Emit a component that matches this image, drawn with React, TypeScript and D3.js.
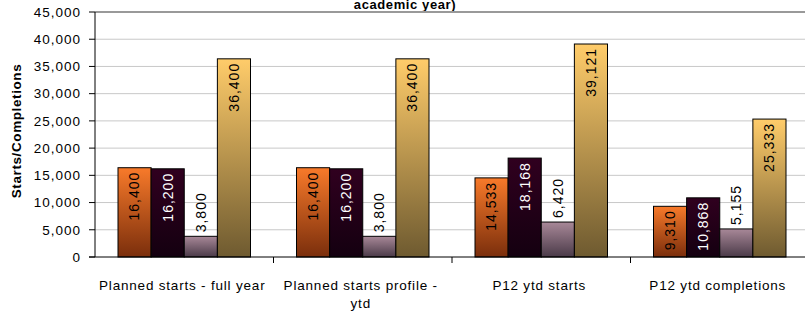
import { useMemo } from 'react'
import * as d3 from 'd3'

const W = 805
const H = 316
const M = { top: 12, right: -4, bottom: 59, left: 95 }

const categories = [
  'Planned starts - full year',
  'Planned starts profile - ytd',
  'P12 ytd starts',
  'P12 ytd completions',
]
const categoryLines = [
  ['Planned starts - full year'],
  ['Planned starts profile -', 'ytd'],
  ['P12 ytd starts'],
  ['P12 ytd completions'],
]
const seriesKeys = ['s1', 's2', 's3', 's4']
const s1 = [16400, 16400, 14533, 9310]
const s2 = [16200, 16200, 18168, 10868]
const s3 = [3800, 3800, 6420, 5155]
const s4 = [36400, 36400, 39121, 25333]
const yTicks = [0, 5000, 10000, 15000, 20000, 25000, 30000, 35000, 40000, 45000]

// gradient top/bottom and label colour per series
const STYLE = [
  { top: '#f87a2a', bottom: '#7a2e0c', text: '#000' },
  { top: '#30001f', bottom: '#140010', text: '#fff' },
  { top: '#a88898', bottom: '#4a3a48', text: '#000' },
  { top: '#ffcc6a', bottom: '#6e5a30', text: '#000' },
]

const FONT = '"Liberation Sans", Arial, sans-serif'

export default function App() {
  const values = [s1, s2, s3, s4]
  const x0 = useMemo(
    () => d3.scaleBand().domain(categories).range([M.left, W - M.right]).padding(0),
    []
  )
  const x1 = useMemo(
    () => d3.scaleBand().domain(seriesKeys).range([23, x0.bandwidth() - 23]).padding(0),
    [x0]
  )
  const y = d3.scaleLinear().domain([0, 45000]).range([H - M.bottom, M.top])
  const fmt = d3.format(',')

  return (
    <svg
      width={W}
      height={H}
      style={{ position: 'absolute', left: 0, top: 0, background: '#fff' }}
      fontFamily={FONT}
    >
      <defs>
        {STYLE.map((s, i) => (
          <linearGradient key={i} id={`g${i}`} x1="0" y1="0" x2="0" y2="1">
            <stop offset="0%" stopColor={s.top} />
            <stop offset="100%" stopColor={s.bottom} />
          </linearGradient>
        ))}
      </defs>

      {/* title fragment (the rest sits above the visible area) */}
      <text x={405} y={9} textAnchor="middle" fontSize={13} fontWeight="bold" letterSpacing={0.6}>
        academic year)
      </text>

      {/* grid */}
      {yTicks.slice(1).map((t) => (
        <line
          key={t}
          x1={M.left}
          x2={W}
          y1={y(t)}
          y2={y(t)}
          stroke={t === 45000 ? '#999' : '#c8c8c8'}
          strokeWidth={t === 45000 ? 2 : 1}
        />
      ))}

      {/* y ticks */}
      {yTicks.map((t) => (
        <g key={t}>
          <line x1={M.left - 6} x2={M.left} y1={y(t)} y2={y(t)} stroke="#000" />
          <text
            x={M.left - 14}
            y={y(t)}
            dy="0.35em"
            textAnchor="end"
            fontSize={13.5}
            letterSpacing={1}
          >
            {fmt(t)}
          </text>
        </g>
      ))}

      {/* bars */}
      {categories.map((c, ci) => (
        <g key={c} transform={`translate(${x0(c)},0)`}>
          {seriesKeys.map((k, si) => {
            const v = values[si][ci]
            const bx = x1(k)!
            const bw = x1.bandwidth()
            const by = y(v)
            const bh = y(0) - by
            const label = fmt(v)
            const len = label.length * 7.6
            const inside = bh > len + 10
            const cx = bx + bw / 2
            const ty = inside ? by + 4 : by - 4
            return (
              <g key={k}>
                <rect
                  x={bx}
                  y={by}
                  width={bw}
                  height={bh}
                  fill={`url(#g${si})`}
                  stroke="#000"
                  strokeWidth={1}
                />
                <text
                  transform={`translate(${cx},${ty}) rotate(-90)`}
                  textAnchor={inside ? 'end' : 'start'}
                  dy="0.35em"
                  fontSize={14}
                  letterSpacing={1}
                  fill={inside ? STYLE[si].text : '#000'}
                >
                  {label}
                </text>
              </g>
            )
          })}
        </g>
      ))}

      {/* axes */}
      <line x1={M.left} x2={M.left} y1={M.top} y2={y(0)} stroke="#000" />
      <line x1={M.left - 6} x2={W} y1={y(0)} y2={y(0)} stroke="#000" />
      {categories.slice(1).map((c) => (
        <line key={c} x1={x0(c)} x2={x0(c)} y1={y(0)} y2={y(0) + 6} stroke="#000" />
      ))}

      {/* category labels */}
      {categories.map((c, ci) => (
        <text
          key={c}
          x={x0(c)! + x0.bandwidth() / 2}
          y={290}
          textAnchor="middle"
          fontSize={13.5}
          letterSpacing={0.8}
        >
          {categoryLines[ci].map((l, li) => (
            <tspan key={li} x={x0(c)! + x0.bandwidth() / 2 - 2} dy={li === 0 ? 0 : 18}>
              {l}
            </tspan>
          ))}
        </text>
      ))}

      {/* y axis title */}
      <text
        transform={`translate(21,${131}) rotate(-90)`}
        textAnchor="middle"
        fontSize={13.5}
        fontWeight="bold"
        letterSpacing={0.6}
      >
        Starts/Completions
      </text>
    </svg>
  )
}
